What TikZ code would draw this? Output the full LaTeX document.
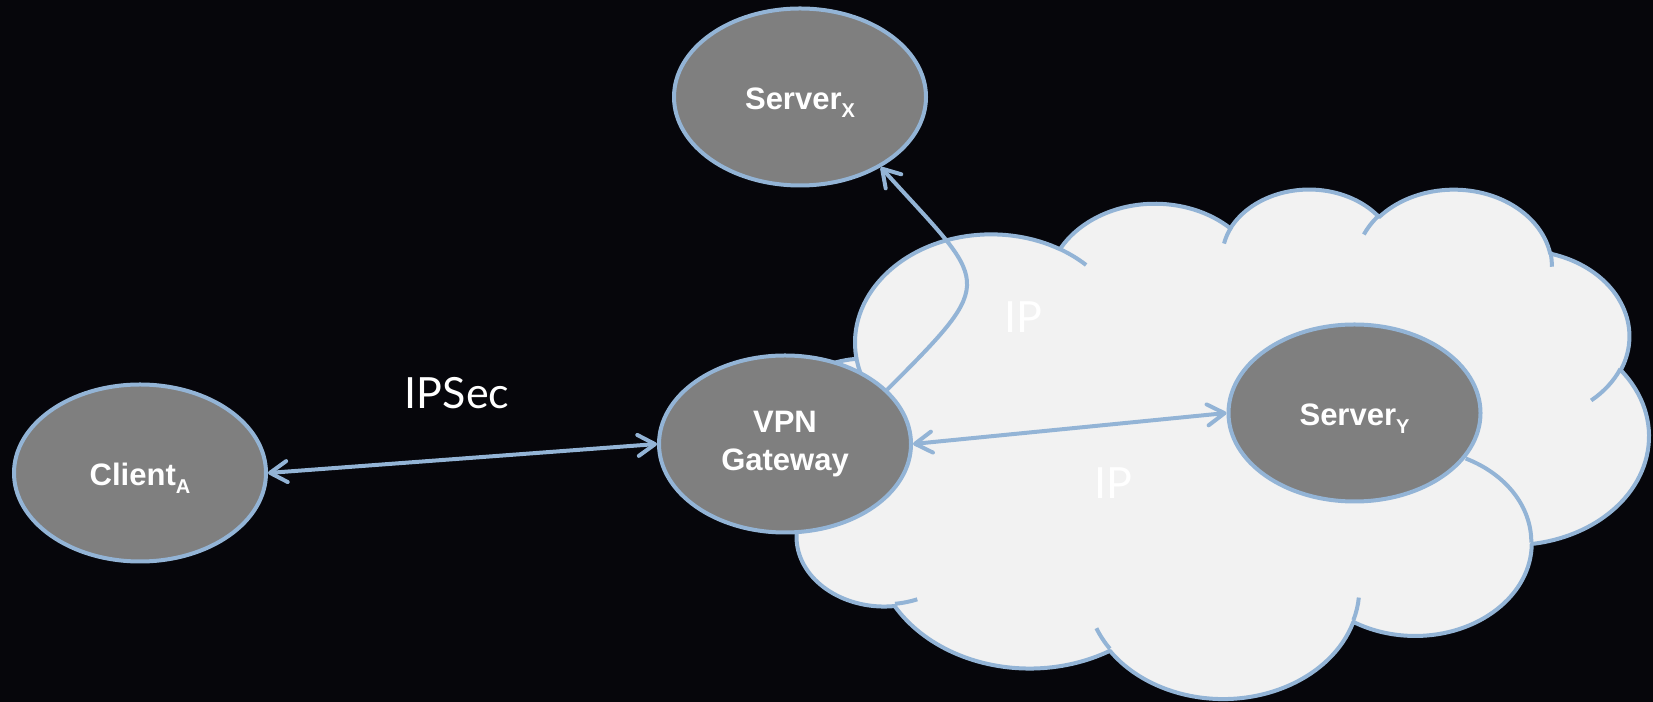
\documentclass[tikz,border=0pt]{standalone}
\usepackage{fontspec}
\setmainfont{Liberation Sans}
\newfontfamily\linkfont{Lato}
\usetikzlibrary{arrows.meta,shapes.geometric}

\definecolor{backdrop}{RGB}{6,6,11}
\definecolor{hostfill}{RGB}{127,127,127}
\definecolor{edgeblue}{RGB}{147,180,214}
\definecolor{cloudfill}{RGB}{242,242,242}

% Cloud outline built from elliptical arcs, given in a 432 x 432 frame
% (y downwards, angles measured towards the ray from the centre).
\newcommand\cloudmove[2]{\pgfpathmoveto{\pgfpoint{777.6bp+#1*2.01620bp}{514.1bp-#2*1.17894bp}}}
\newcommand\cloudarc[4]{%
  \pgfmathsetmacro\cloudsa{#3}%
  \pgfmathsetmacro\cloudea{#3+#4}%
  \pgfmathsetmacro\cloudps{-(\cloudsa+Mod(atan2(#1*sin(\cloudsa),#2*cos(\cloudsa))-\cloudsa+180,360)-180)}%
  \pgfmathsetmacro\cloudpe{-(\cloudea+Mod(atan2(#1*sin(\cloudea),#2*cos(\cloudea))-\cloudea+180,360)-180)}%
  \pgfmathsetmacro\cloudrx{#1*2.01620}%
  \pgfmathsetmacro\cloudry{#2*1.17894}%
  \pgfpatharc{\cloudps}{\cloudpe}{\cloudrx bp and \cloudry bp}%
}
\newcommand\hostsub[1]{\raisebox{-7.5bp}{\fontsize{20bp}{20bp}\selectfont #1}}

\begin{document}
\begin{tikzpicture}[x=1bp,y=1bp,
  >={Straight Barb[length=17bp,width=21bp,round]},
  host/.style={ellipse, draw=edgeblue, fill=hostfill, line width=4bp,
    minimum width=252bp, minimum height=177bp, inner sep=0pt,
    text=white, font=\bfseries\fontsize{31bp}{38bp}\selectfont, align=center},
  onehost/.style={host, text height=26bp, text depth=0bp},
  link/.style={draw=edgeblue, line width=4bp},
  linklabel/.style={text=white, font=\linkfont\fontsize{43bp}{50bp}\selectfont,
    anchor=base, inner sep=0pt}]

\fill[backdrop] (0,0) rectangle (1653,702);
\useasboundingbox (0,0) rectangle (1653,702);

% the IP network cloud
\begin{pgfscope}
  \pgfsetlinewidth{4bp}
  \pgfsetroundjoin
  \pgfsetstrokecolor{edgeblue}
  \pgfsetfillcolor{cloudfill}
  \cloudmove{39.00}{143.70}
  \cloudarc{67.53}{91.90}{-190.48748}{123.78053}
  \cloudarc{53.33}{72.67}{-144.10238}{89.94523}
  \cloudarc{43.65}{59.45}{-145.80792}{99.72302}
  \cloudarc{48.57}{65.95}{-130.98607}{117.24173}
  \cloudarc{53.33}{72.73}{-78.70888}{109.02692}
  \cloudarc{67.75}{92.20}{-46.26725}{130.26900}
  \cloudarc{57.85}{78.67}{0.62502}{114.03333}
  \cloudarc{67.52}{92.15}{22.45160}{115.17255}
  \cloudarc{77.20}{105.43}{66.24263}{75.71102}
  \cloudarc{43.60}{59.18}{-274.94208}{146.73557}
  \cloudarc{43.45}{59.45}{-246.82850}{152.51885}
  \pgfpathclose
  \pgfusepath{fill,stroke}
  % inner creases between the puffs
  \cloudmove{46.93}{261.77}\cloudarc{43.45}{59.45}{86.74200}{26.42950}
  \cloudmove{69.28}{348.99}\cloudarc{43.60}{59.18}{73.61047}{11.44747}
  \cloudmove{164.78}{390.90}\cloudarc{67.52}{92.15}{137.62415}{14.08110}
  \cloudmove{288.27}{347.51}\cloudarc{67.52}{92.15}{6.45327}{15.99835}
  \cloudmove{341.29}{229.54}\cloudarc{57.85}{78.67}{-70.29235}{70.91737}
  \cloudmove{417.98}{153.54}\cloudarc{53.33}{72.73}{30.31803}{27.75150}
  \cloudmove{383.24}{54.26}\cloudarc{48.57}{65.95}{-13.74433}{14.85890}
  \cloudmove{290.78}{39.52}\cloudarc{48.57}{65.95}{-149.18145}{18.19537}
  \cloudmove{221.41}{47.20}\cloudarc{43.65}{59.45}{-163.49427}{17.68635}
  \cloudmove{140.00}{51.92}\cloudarc{67.53}{91.90}{-66.70695}{12.31935}
  \cloudmove{41.27}{157.89}\cloudarc{67.53}{91.90}{157.65435}{11.85817}
  \pgfusepath{stroke}
\end{pgfscope}

% hosts
\node[onehost] (ca)  at (140,229)    {Client\hostsub{A}};
\node[host]    (vpn) at (785,258)    {VPN\\Gateway};
\node[onehost] (sx)  at (800,605)    {Server\hostsub{X}};
\node[onehost] (sy)  at (1354.5,289) {Server\hostsub{Y}};

% links
\draw[link,<->] (ca.east) -- (vpn.west);
\draw[link,<->] (vpn.east) -- (sy.west);
\draw[link,->] (vpn.28) .. controls +(45:160bp) and +(-48:160bp) .. (sx.-41);

% link labels
\node[linklabel] (ipsec) at (457,293)    {IPSec};
\node[linklabel] (ipa)   at (1023,369)   {IP};
\node[linklabel] (ipb)   at (1113.5,203) {IP};
\end{tikzpicture}
\end{document}
